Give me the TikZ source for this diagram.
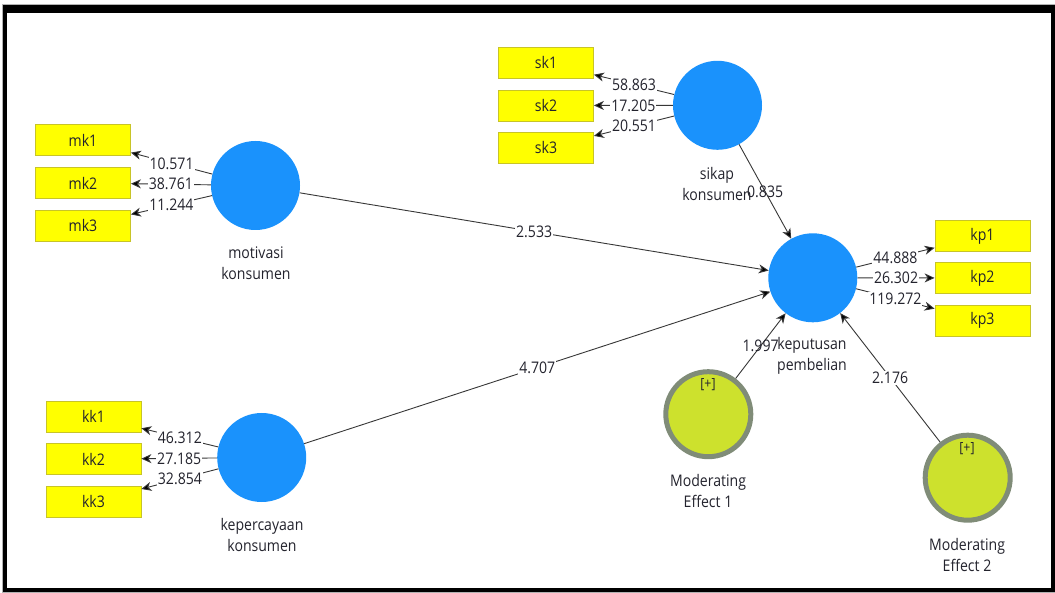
\documentclass[tikz,border=0pt]{standalone}
\usepackage{fontspec}
\setmainfont[FakeStretch=0.88]{Open Sans}
\usetikzlibrary{arrows.meta}
\definecolor{lvblue}{RGB}{26,146,252}
\definecolor{boxyellow}{RGB}{255,255,0}
\definecolor{boxedge}{RGB}{200,196,40}
\definecolor{mefill}{RGB}{205,225,45}
\definecolor{meedge}{RGB}{128,140,120}
\definecolor{txt}{RGB}{35,35,45}
\definecolor{linegray}{RGB}{55,55,55}
\tikzset{
  ind/.style={rectangle, fill=boxyellow, draw=boxedge, line width=0.8pt, minimum width=95pt, minimum height=31pt, inner sep=0pt, text=txt, font=\fontsize{16}{19}\selectfont},
  lv/.style={circle, fill=lvblue, minimum size=89pt, inner sep=0pt},
  me/.style={circle, fill=mefill, draw=meedge, line width=5pt, minimum size=85pt, inner sep=0pt},
  lvlabel/.style={align=center, text=txt, font=\fontsize{16}{21}\selectfont, inner sep=0pt},
  conn/.style={draw=linegray, line width=0.9pt, -{Stealth[length=10pt,width=9pt,inset=3pt,fill=black]}},
  val/.style={fill=white, text=txt, font=\fontsize{16}{19}\selectfont, inner sep=1pt, midway}
}
\begin{document}
\begin{tikzpicture}[x=1pt,y=-1pt]
\useasboundingbox (0,0) rectangle (1055,593);
\fill[white] (0,0) rectangle (1055,593);
\fill[gray!60] (1.5,4) rectangle (1054.5,592.5);
\fill[black] (2.5,5) rectangle (1054.5,592);
\fill[white] (6.7,13.3) rectangle (1051,588.3);

% indicators
\node[ind] (mk1) at (83,140) {mk1};
\node[ind] (mk2) at (83,183) {mk2};
\node[ind] (mk3) at (83,225.5) {mk3};
\node[ind] (sk1) at (546,62.8) {sk1};
\node[ind] (sk2) at (546,105.5) {sk2};
\node[ind] (sk3) at (546,147.8) {sk3};
\node[ind] (kp1) at (982.5,236) {kp1};
\node[ind] (kp2) at (982.5,278) {kp2};
\node[ind] (kp3) at (982.5,320.8) {kp3};
\node[ind] (kk1) at (93.5,416.7) {kk1};
\node[ind] (kk2) at (93.5,459.2) {kk2};
\node[ind] (kk3) at (93.5,501.5) {kk3};

% latent variables
\node[lv] (mv) at (255.5,185.5) {};
\node[lv] (sikap) at (717.5,105.3) {};
\node[lv] (kep) at (812.8,277.8) {};
\node[lv] (kpc) at (261.7,457.5) {};
\node[me] (me1) at (708.3,414.2) {};
\node[me] (me2) at (967.7,477.7) {};
\node[text=txt, font=\fontsize{14}{16}\selectfont, inner sep=0pt] (me1p) at (708,385) {[+]};
\node[text=txt, font=\fontsize{14}{16}\selectfont, inner sep=0pt] (me2p) at (967,449) {[+]};

% labels
\node[lvlabel] (mvl) at (256,263) {motivasi\\konsumen};
\node[lvlabel] (sikapl) at (717,184) {sikap\\konsumen};
\node[lvlabel] (kepl) at (812,356) {keputusan\\pembelian};
\node[lvlabel] (kpcl) at (262,535) {kepercayaan\\konsumen};
\node[lvlabel] (me1l) at (708,491) {Moderating\\Effect 1};
\node[lvlabel] (me2l) at (967,555) {Moderating\\Effect 2};

% outer loadings
\draw[conn] (mv) -- node[val] {10.571} (mk1);
\draw[conn] (mv) -- node[val] {38.761} (mk2);
\draw[conn] (mv) -- node[val] {11.244} (mk3);
\draw[conn] (sikap) -- node[val] {58.863} (sk1);
\draw[conn] (sikap) -- node[val] {17.205} (sk2);
\draw[conn] (sikap) -- node[val] {20.551} (sk3);
\draw[conn] (kep) -- node[val] {44.888} (kp1);
\draw[conn] (kep) -- node[val] {26.302} (kp2);
\draw[conn] (kep) -- node[val] {119.272} (kp3);
\draw[conn] (kpc) -- node[val] {46.312} (kk1);
\draw[conn] (kpc) -- node[val] {27.185} (kk2);
\draw[conn] (kpc) -- node[val] {32.854} (kk3);

% structural paths
\draw[conn] (mv) -- node[val] {2.533} (kep);
\draw[conn] (kpc) -- node[val] {4.707} (kep);
\draw[conn] (sikap) -- node[val, fill=none] {0.835} (kep);
\draw[conn] (me1) -- node[val, fill=none] {1.997} (kep);
\draw[conn] (me2) -- node[val] {2.176} (kep);
\end{tikzpicture}
\end{document}
